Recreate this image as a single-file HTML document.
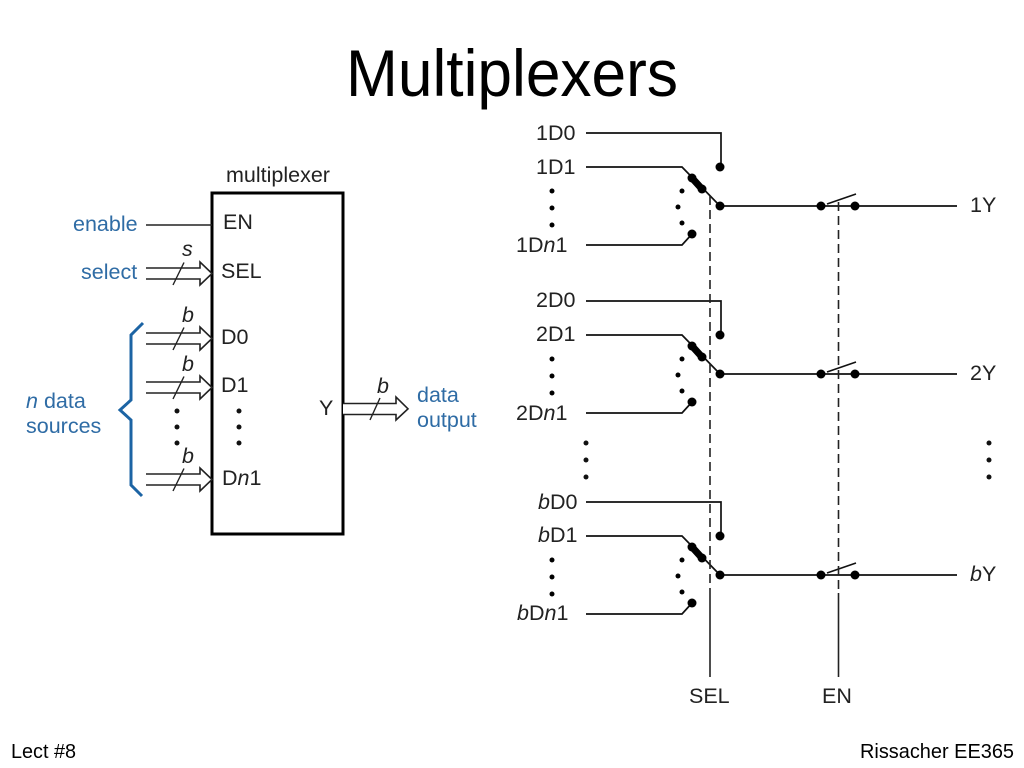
<!DOCTYPE html>
<html><head><meta charset="utf-8"><style>
html,body{margin:0;padding:0;background:#fff}
svg{display:block}
text{font-family:"Liberation Sans",sans-serif;fill:#222}
.l{font-size:21.5px}
.b{font-size:21.5px;fill:#2f6ca5}
</style></head><body>
<svg width="1024" height="768" viewBox="0 0 1024 768" xmlns="http://www.w3.org/2000/svg">
<defs>
<g id="bus" fill="none" stroke="#222" stroke-width="1.6">
<path d="M146 -5.5H200V-11.5L212 0L200 11.5V5.5H146" fill="#fff"/>
<path d="M173 11.5L184 -11" stroke-width="1.4"/>
</g>
<g id="sw">
<path d="M586 133H721V167M586 167H682L720 206H957M586 245H682L692 234" fill="none" stroke="#111" stroke-width="1.7"/>
<path d="M692 178L702 189" stroke="#000" stroke-width="7"/>
<circle cx="692" cy="178" r="4.5"/><circle cx="702" cy="189" r="4.5"/>
<circle cx="720" cy="167" r="4.5"/><circle cx="720" cy="206" r="4.5"/><circle cx="692" cy="234" r="4.5"/>
<circle cx="821" cy="206" r="4.5"/><circle cx="855" cy="206" r="4.5"/>
<path d="M827 204L856 194" stroke="#111" stroke-width="1.6"/>
<circle cx="552" cy="191" r="2.5"/><circle cx="552" cy="208" r="2.5"/><circle cx="552" cy="225" r="2.5"/>
<circle cx="682" cy="191" r="2.5"/><circle cx="678" cy="207" r="2.5"/><circle cx="682" cy="223" r="2.5"/>
</g>
</defs>

<text x="346" y="96" style="font-size:66px;fill:#000" textLength="332" lengthAdjust="spacingAndGlyphs">Multiplexers</text>
<text x="11" y="758" style="font-size:20px;fill:#000" textLength="65" lengthAdjust="spacingAndGlyphs">Lect #8</text>
<text x="860" y="758" style="font-size:20px;fill:#000" textLength="154" lengthAdjust="spacingAndGlyphs">Rissacher EE365</text>

<!-- Left block -->
<rect x="212" y="193" width="131" height="341" fill="none" stroke="#000" stroke-width="3"/>
<path d="M146 225H212" stroke="#222" stroke-width="1.6"/>
<use href="#bus" y="273.5"/>
<use href="#bus" y="338.5"/>
<use href="#bus" y="387.5"/>
<use href="#bus" y="479.5"/>
<g fill="none" stroke="#222" stroke-width="1.6">
<path d="M343 403.5H396V397L408 408.8L396 420V414.5H343" fill="#fff"/>
<path d="M370 420L380 398" stroke-width="1.4"/>
</g>
<path d="M143 323L131 335V400L120 410L131 420V485L142 496" fill="none" stroke="#1c64a4" stroke-width="3"/>
<g fill="#111">
<circle cx="177" cy="411" r="2.5"/><circle cx="177" cy="427" r="2.5"/><circle cx="177" cy="443" r="2.5"/>
<circle cx="239" cy="411" r="2.5"/><circle cx="239" cy="427" r="2.5"/><circle cx="239" cy="443" r="2.5"/>
</g>

<text class="l" x="226" y="182">multiplexer</text>
<text class="l" x="223" y="229">EN</text>
<text class="l" x="221" y="278">SEL</text>
<text class="l" x="221" y="344">D0</text>
<text class="l" x="221" y="392">D1</text>
<text class="l" x="222" y="485">D<tspan font-style="italic">n</tspan>1</text>
<text class="l" x="319" y="415">Y</text>
<text class="l" x="182" y="256" font-style="italic">s</text>
<text class="l" x="182" y="322" font-style="italic">b</text>
<text class="l" x="182" y="371" font-style="italic">b</text>
<text class="l" x="182" y="463" font-style="italic">b</text>
<text class="l" x="377" y="393" font-style="italic">b</text>
<text class="b" x="73" y="231">enable</text>
<text class="b" x="81" y="279">select</text>
<text class="b" x="26" y="408"><tspan font-style="italic">n</tspan> data</text>
<text class="b" x="26" y="433">sources</text>
<text class="b" x="417" y="402">data</text>
<text class="b" x="417" y="427">output</text>

<!-- Right -->
<use href="#sw"/>
<use href="#sw" y="168"/>
<use href="#sw" y="369"/>
<path d="M710 196V593" stroke="#222" stroke-width="1.6" stroke-dasharray="9 5" fill="none"/>
<path d="M710 593V677" stroke="#222" stroke-width="1.6"/>
<path d="M838.5 202V593" stroke="#222" stroke-width="1.6" stroke-dasharray="9 5" fill="none"/>
<path d="M838.5 593V677" stroke="#222" stroke-width="1.6"/>
<g fill="#111">
<circle cx="586" cy="443" r="2.5"/><circle cx="586" cy="460" r="2.5"/><circle cx="586" cy="477" r="2.5"/>
<circle cx="989" cy="443" r="2.5"/><circle cx="989" cy="460" r="2.5"/><circle cx="989" cy="477" r="2.5"/>
</g>
<text class="l" x="536" y="140">1D0</text>
<text class="l" x="536" y="174">1D1</text>
<text class="l" x="516" y="252">1D<tspan font-style="italic">n</tspan>1</text>
<text class="l" x="536" y="307">2D0</text>
<text class="l" x="536" y="341">2D1</text>
<text class="l" x="516" y="420">2D<tspan font-style="italic">n</tspan>1</text>
<text class="l" x="538" y="509"><tspan font-style="italic">b</tspan>D0</text>
<text class="l" x="538" y="542"><tspan font-style="italic">b</tspan>D1</text>
<text class="l" x="517" y="620"><tspan font-style="italic">b</tspan>D<tspan font-style="italic">n</tspan>1</text>
<text class="l" x="970" y="212">1Y</text>
<text class="l" x="970" y="380">2Y</text>
<text class="l" x="970" y="581"><tspan font-style="italic">b</tspan>Y</text>
<text class="l" x="689" y="703">SEL</text>
<text class="l" x="822" y="703">EN</text>
</svg>
</body></html>
